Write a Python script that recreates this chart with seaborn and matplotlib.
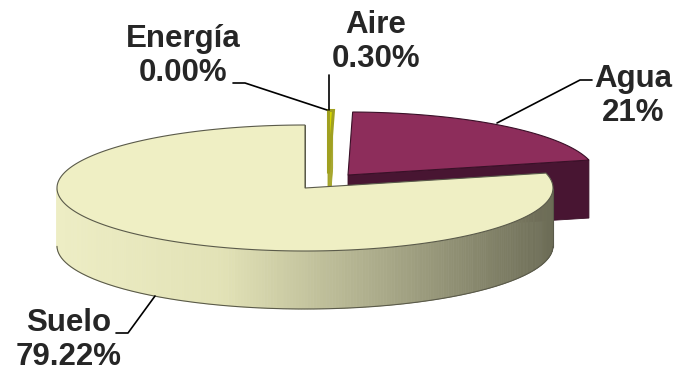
import numpy as np
import matplotlib.pyplot as plt
import seaborn as sns
from matplotlib.patches import Polygon

# ----------------------------
# data
# ----------------------------
labels = ["Energía", "Aire", "Agua", "Suelo"]
values = [0.00, 0.30, 21.0, 79.22]
pct_text = ["0.00%", "0.30%", "21%", "79.22%"]

# ----------------------------
# style
# ----------------------------
top_colors = ["#C8C800", "#D8D800", "#8D2D5B", "#EFEFC4"]
side_colors = ["#8A8A00", "#A8A830", "#481532", None]  # None -> gradient
edge_colors = ["#6B6B00", "#A0A020", "#3A1028", "#5A5A4A"]
edge_widths = [0.8, 2.2, 0.8, 0.8]
shift = [(0, 0), (23, -15), (43, -13), (0, 0)]   # exploded offsets in px

CX, CY, RX, RY, H = 305, 188, 248, 63, 58

sns.set_style("white")
plt.rcParams['font.family'] = ['Liberation Sans', 'DejaVu Sans']

side_cmap = sns.blend_palette(["#EDEDC4", "#E2E2B6", "#A8A888", "#6C6C56"], as_cmap=True)

fig = plt.figure(figsize=(6.8, 3.74), dpi=100)
ax = fig.add_axes([0, 0, 1, 1])
ax.set_xlim(0, 680)
ax.set_ylim(374, 0)
ax.axis("off")


def rim(cx, cy, th, dz=0):
    t = np.radians(th)
    return np.column_stack([cx + RX * np.cos(t), cy - RY * np.sin(t) + dz])


def draw_slice(i, th_start, th_end):
    # th_start > th_end, slice runs clockwise in math degrees
    cx, cy = CX + shift[i][0], CY + shift[i][1]
    ec = edge_colors[i]
    side = side_colors[i] or "#9A9A7C"
    # radial faces that face the viewer
    for th, nrm in [(th_end, th_end - 90), (th_start, th_start + 90)]:
        if np.sin(np.radians(nrm)) < 0:
            p = rim(cx, cy, [th])[0]
            quad = [(cx, cy), tuple(p), (p[0], p[1] + H), (cx, cy + H)]
            ax.add_patch(Polygon(quad, closed=True, fc=side, ec=ec, lw=0.6))
    # outer side (front half only)
    ths = np.linspace(th_start, th_end, 400)
    front = ths[np.sin(np.radians(ths)) < 0]
    if len(front) > 1:
        if side_colors[i] is None:
            for a, b in zip(front[:-1], front[1:]):
                pts = np.vstack([rim(cx, cy, [a, b]), rim(cx, cy, [b, a], H)])
                xm = pts[:, 0].mean()
                col = side_cmap((xm - (cx - RX)) / (2 * RX))
                ax.add_patch(Polygon(pts, closed=True, fc=col, ec=col, lw=0.5))
            ax.plot(*rim(cx, cy, front, H).T, color=ec, lw=0.8)
            ax.plot(*rim(cx, cy, [front[0], front[0]], [0, H]).T, color=ec, lw=0.8)
        else:
            pts = np.vstack([rim(cx, cy, front), rim(cx, cy, front[::-1], H)])
            ax.add_patch(Polygon(pts, closed=True, fc=side, ec=ec, lw=0.6))
    # top face
    top = np.vstack([[cx, cy], rim(cx, cy, ths)])
    ax.add_patch(Polygon(top, closed=True, fc=top_colors[i], ec=ec, lw=edge_widths[i]))


# slices run clockwise from 12 o'clock
total = sum(values)
start = 90.0
for i, v in enumerate(values):
    sweep = 360.0 * v / total
    if sweep > 0:
        draw_slice(i, start, start - sweep)
    start -= sweep

# ----------------------------
# labels with leader lines
# ----------------------------
fs = 22.5
ax.text(183, 56, f"{labels[0]}\n{pct_text[0]}", ha="center", va="center",
        fontsize=fs, fontweight="bold")
ax.plot([233, 245, 327], [83, 83, 110], color="black", lw=1.2)

ax.text(376, 42, f"{labels[1]}\n{pct_text[1]}", ha="center", va="center",
        fontsize=fs, fontweight="bold")
ax.plot([329, 329], [110, 75], color="black", lw=1.2)

ax.text(633, 96, f"{labels[2]}\n{pct_text[2]}", ha="center", va="center",
        fontsize=fs, fontweight="bold")
ax.plot([497, 580, 592], [123, 80, 80], color="black", lw=1.2)

ax.text(69, 340, f"{labels[3]}\n{pct_text[3]}", ha="center", va="center",
        fontsize=fs, fontweight="bold")
ax.plot([155, 128, 116], [296, 333, 333], color="black", lw=1.2)

fig.savefig("out.png", dpi=100)
